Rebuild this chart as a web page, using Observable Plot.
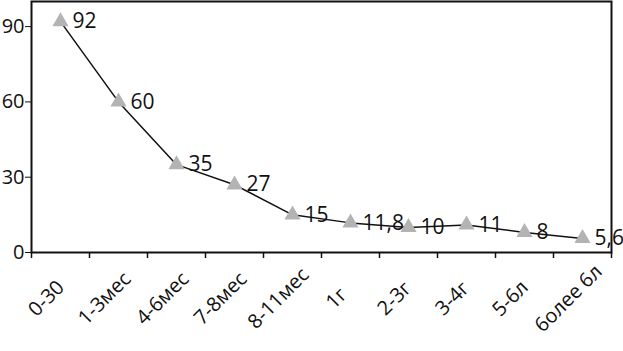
<!DOCTYPE html>
<html><head><meta charset="utf-8">
<script src="https://cdn.jsdelivr.net/npm/d3@7"></script>
<script src="https://cdn.jsdelivr.net/npm/@observablehq/plot@0.6"></script>
<style>body{margin:0;background:#fff}svg{display:block}</style>
</head><body><div id="chart"></div>
<script>
const categories = ["0-30", "1-3мес", "4-6мес", "7-8мес", "8-11мес", "1г", "2-3г", "3-4г", "5-6л", "6олее 6л"];
const values = [92, 60, 35, 27, 15, 11.8, 10, 11, 8, 5.6];
const valueLabels = ["92", "60", "35", "27", "15", "11,8", "10", "11", "8", "5,6"];
const yTicks = [0, 30, 60, 90];

const data = categories.map((c, i) => ({i: i + 0.5, c, v: values[i], label: valueLabels[i]}));
const boundaries = d3.range(categories.length + 1);

const chart = Plot.plot({
  width: 623, height: 351,
  marginLeft: 31, marginRight: 12, marginTop: 1, marginBottom: 99,
  style: {fontFamily: "'Open Sans', sans-serif", fontSize: "20px", color: "#111"},
  x: {domain: [0, categories.length], axis: null},
  y: {domain: [0, 100], axis: null},
  marks: [
    Plot.axisY(yTicks, {tickSize: 6, tickPadding: 1, label: null, fontSize: 20}),
    Plot.axisX(boundaries, {tickSize: 6, tickFormat: () => "", label: null, strokeWidth: 1.5}),
    Plot.text(data, {x: "i", text: "c", frameAnchor: "bottom", rotate: -45, textAnchor: "middle", lineAnchor: "middle", dx: -14, dy: 46, fontSize: 20, fill: "#111"}),
    Plot.frame({stroke: "#111", strokeWidth: 2}),
    Plot.line(data, {x: "i", y: "v", stroke: "#111", strokeWidth: 1.5}),
    Plot.dot(data, {x: "i", y: "v", symbol: "triangle", r: 6, fill: "#b3b3b3", stroke: "none"}),
    Plot.text(data, {x: "i", y: "v", text: "label", dx: 12, textAnchor: "start", fontSize: 21, fill: "#111"})
  ]
});
document.getElementById("chart").appendChild(chart);
</script></body></html>
